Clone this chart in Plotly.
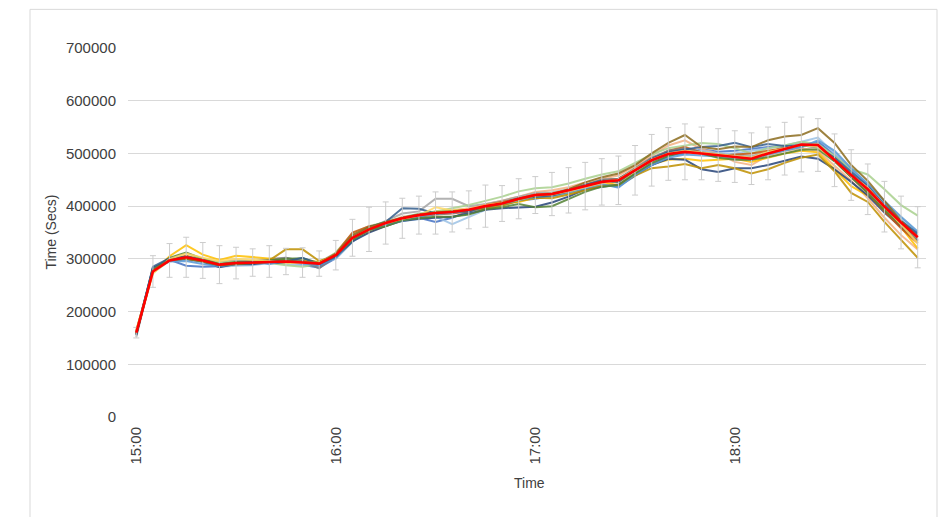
import plotly.graph_objects as go

times = [f"{15 + i // 12}:{(i % 12) * 5:02d}" for i in range(48)]
tick_labels = ["15:00", "16:00", "17:00", "18:00"]

mean_vals = [160000, 276000, 297000, 303000, 297000, 289000, 292000, 293000, 295000, 295000, 293000, 291000,
             307000, 340000, 356000, 368000, 377000, 383000, 387000, 389000, 393000, 400000, 405000, 414000,
             421000, 423000, 430000, 438000, 446000, 449000, 468000, 487000, 499000, 503000, 500000, 497000,
             494000, 490000, 500000, 509000, 517000, 516000, 487000, 459000, 432000, 399000, 369000, 341000]
mean_err = [10000, 30000, 32000, 38000, 34000, 36000, 30000, 26000, 30000, 25000, 28000, 24000,
            28000, 35000, 42000, 40000, 38000, 36000, 40000, 38000, 36000, 40000, 34000, 38000,
            35000, 41000, 43000, 45000, 44000, 46000, 47000, 49000, 50000, 53000, 50000, 50000,
            49000, 49000, 50000, 50000, 52000, 50000, 50000, 48000, 48000, 48000, 50000, 58000]

s_navy = [158000, 283000, 296000, 300000, 295000, 284000, 290000, 290000, 293000, 292000, 296000, 287000,
          303000, 333000, 350000, 362000, 372000, 376000, 378000, 380000, 386000, 393000, 396000, 398000,
          399000, 407000, 418000, 432000, 437000, 441000, 460000, 478000, 490000, 488000, 470000, 465000,
          472000, 472000, 478000, 486000, 494000, 490000, 470000, 446000, 420000, 388000, 360000, 333000]
s_blue = [162000, 282000, 298000, 287000, 285000, 286000, 292000, 297000, 292000, 296000, 289000, 283000,
          301000, 337000, 352000, 366000, 375000, 378000, 370000, 378000, 390000, 397000, 402000, 410000,
          414000, 420000, 425000, 433000, 441000, 437000, 458000, 478000, 496000, 500000, 508000, 503000,
          505000, 508000, 512000, 513000, 512000, 522000, 498000, 470000, 440000, 405000, 372000, 345000]
s_orange = [157000, 277000, 300000, 305000, 300000, 294000, 295000, 290000, 298000, 299000, 296000, 293000,
            310000, 345000, 360000, 368000, 380000, 384000, 390000, 392000, 396000, 403000, 410000, 418000,
            427000, 430000, 436000, 445000, 452000, 458000, 476000, 496000, 515000, 525000, 508000, 500000,
            484000, 478000, 496000, 505000, 510000, 505000, 476000, 448000, 415000, 378000, 345000, 318000]
s_gray = [152000, 280000, 297000, 302000, 296000, 293000, 298000, 296000, 300000, 302000, 294000, 294000,
          311000, 342000, 358000, 372000, 386000, 390000, 414000, 414000, 400000, 404000, 410000, 418000,
          425000, 426000, 432000, 440000, 450000, 452000, 470000, 490000, 502000, 507000, 503000, 500000,
          497000, 495000, 502000, 512000, 520000, 518000, 490000, 462000, 430000, 395000, 362000, 335000]
s_gold = [165000, 275000, 305000, 326000, 308000, 298000, 306000, 303000, 300000, 298000, 297000, 294000,
          306000, 336000, 352000, 362000, 375000, 380000, 390000, 390000, 392000, 396000, 406000, 408000,
          416000, 418000, 424000, 432000, 440000, 446000, 462000, 480000, 488000, 490000, 486000, 488000,
          490000, 484000, 492000, 500000, 505000, 502000, 470000, 438000, 420000, 395000, 360000, 320000]
s_lightblue = [160000, 278000, 296000, 298000, 293000, 285000, 287000, 288000, 292000, 290000, 288000, 292000,
               300000, 332000, 355000, 365000, 372000, 375000, 380000, 366000, 380000, 393000, 403000, 412000,
               420000, 423000, 429000, 437000, 445000, 448000, 466000, 484000, 498000, 510000, 505000, 500000,
               500000, 505000, 510000, 515000, 522000, 530000, 500000, 470000, 440000, 408000, 378000, 350000]
s_lightgreen = [163000, 274000, 296000, 303000, 300000, 293000, 295000, 293000, 292000, 288000, 285000, 290000,
                312000, 348000, 362000, 370000, 378000, 386000, 390000, 396000, 402000, 410000, 418000, 428000,
                434000, 436000, 443000, 452000, 460000, 466000, 482000, 498000, 510000, 515000, 520000, 518000,
                510000, 500000, 510000, 515000, 522000, 518000, 495000, 470000, 460000, 432000, 402000, 382000]
s_darkgreen = [158000, 280000, 302000, 312000, 300000, 290000, 294000, 295000, 297000, 300000, 301000, 292000,
               306000, 336000, 355000, 362000, 373000, 377000, 380000, 380000, 384000, 394000, 398000, 404000,
               398000, 400000, 414000, 427000, 437000, 440000, 462000, 482000, 495000, 504000, 500000, 492000,
               488000, 488000, 493000, 500000, 507000, 508000, 485000, 455000, 425000, 392000, 365000, 342000]
s_steel = [155000, 285000, 301000, 304000, 298000, 287000, 292000, 294000, 296000, 295000, 302000, 290000,
           304000, 340000, 360000, 370000, 396000, 395000, 386000, 390000, 390000, 400000, 405000, 415000,
           418000, 420000, 428000, 440000, 448000, 446000, 468000, 490000, 503000, 508000, 512000, 514000,
           520000, 512000, 518000, 514000, 515000, 512000, 492000, 465000, 438000, 402000, 372000, 348000]
s_olive = [160000, 278000, 298000, 300000, 295000, 288000, 290000, 292000, 294000, 296000, 294000, 292000,
           309000, 345000, 360000, 370000, 378000, 384000, 388000, 390000, 393000, 398000, 405000, 412000,
           420000, 422000, 432000, 445000, 455000, 462000, 478000, 500000, 520000, 535000, 512000, 508000,
           513000, 512000, 525000, 532000, 535000, 548000, 520000, 478000, 448000, 410000, 372000, 342000]
s_mustard = [162000, 276000, 297000, 300000, 296000, 288000, 291000, 293000, 297000, 318000, 318000, 296000,
             305000, 338000, 353000, 368000, 376000, 382000, 387000, 389000, 392000, 396000, 401000, 410000,
             416000, 415000, 422000, 430000, 438000, 440000, 458000, 472000, 475000, 480000, 472000, 478000,
             472000, 462000, 470000, 482000, 492000, 498000, 466000, 425000, 408000, 370000, 335000, 302000]
s_yellow = [164000, 272000, 300000, 310000, 302000, 296000, 300000, 298000, 296000, 292000, 293000, 293000,
            308000, 340000, 358000, 368000, 376000, 382000, 398000, 392000, 394000, 402000, 406000, 412000,
            420000, 422000, 428000, 436000, 444000, 450000, 470000, 488000, 500000, 505000, 502000, 498000,
            496000, 492000, 503000, 510000, 516000, 512000, 488000, 458000, 435000, 400000, 365000, 330000]
s_brown = [157000, 279000, 299000, 306000, 297000, 290000, 292000, 292000, 296000, 297000, 295000, 292000,
           310000, 350000, 362000, 366000, 374000, 380000, 384000, 386000, 390000, 402000, 408000, 414000,
           422000, 424000, 430000, 440000, 448000, 452000, 468000, 488000, 505000, 512000, 502000, 495000,
           498000, 500000, 505000, 510000, 515000, 514000, 486000, 455000, 425000, 390000, 358000, 330000]
s_midblue = [161000, 281000, 295000, 296000, 290000, 286000, 290000, 296000, 290000, 298000, 291000, 288000,
             302000, 338000, 354000, 364000, 372000, 380000, 385000, 387000, 392000, 398000, 404000, 411000,
             418000, 419000, 426000, 434000, 442000, 435000, 460000, 478000, 492000, 498000, 496000, 494000,
             490000, 488000, 498000, 505000, 512000, 525000, 505000, 472000, 442000, 410000, 380000, 352000]
s_darkgray = [156000, 280000, 298000, 304000, 296000, 290000, 293000, 294000, 298000, 302000, 296000, 282000,
              306000, 342000, 357000, 368000, 378000, 384000, 388000, 388000, 392000, 398000, 404000, 412000,
              420000, 422000, 430000, 440000, 450000, 452000, 472000, 492000, 505000, 510000, 502000, 498000,
              495000, 492000, 500000, 508000, 515000, 512000, 488000, 460000, 432000, 398000, 366000, 336000]

series = [
    ("Run 1", s_blue, "#4472C4"),
    ("Run 2", s_orange, "#F4B183"),
    ("Run 3", s_gray, "#A5A5A5"),
    ("Run 4", s_gold, "#FFC000"),
    ("Run 5", s_lightblue, "#9DC3E6"),
    ("Run 6", s_lightgreen, "#A9D18E"),
    ("Run 7", s_navy, "#264478"),
    ("Run 8", s_brown, "#C55A11"),
    ("Run 9", s_darkgray, "#7F7F7F"),
    ("Run 10", s_mustard, "#BF9000"),
    ("Run 11", s_midblue, "#5B9BD5"),
    ("Run 12", s_darkgreen, "#548235"),
    ("Run 13", s_steel, "#335D8C"),
    ("Run 14", s_yellow, "#FFD966"),
    ("Run 15", s_olive, "#8C6D1F"),
]

fig = go.Figure()
for name, vals, col in series:
    fig.add_trace(go.Scatter(x=times, y=vals, mode="lines", name=name,
                             line=dict(color=col, width=2), opacity=0.85))

fig.add_trace(go.Scatter(
    x=times, y=mean_vals, mode="lines", name="Mean",
    line=dict(color="#FF0000", width=2.6),
    error_y=dict(type="data", array=mean_err, visible=True, color="#CCCCCC", thickness=1, width=3),
))

font_family = "Liberation Sans, Arial, sans-serif"
fig.update_layout(
    width=947, height=517,
    margin=dict(l=128, r=21, t=48, b=100),
    paper_bgcolor="white", plot_bgcolor="white",
    showlegend=False,
    font=dict(family=font_family, size=14, color="#404040"),
    xaxis=dict(type="category", categoryorder="array", categoryarray=times,
               range=[-0.5, 47.5], autorange=False,
               tickmode="array", tickvals=tick_labels, ticktext=tick_labels,
               tickangle=-90, showgrid=False, zeroline=False, showline=False,
               ticks="", ticklabelstandoff=6,
               tickfont=dict(size=15, color="#404040")),
    yaxis=dict(range=[0, 700000], dtick=100000, tickformat="d",
               showgrid=True, gridcolor="#D9D9D9", gridwidth=1, zeroline=False,
               showline=False, ticks="", ticklabelstandoff=11,
               tickfont=dict(size=15, color="#404040")),
    annotations=[
        dict(text="Time (Secs)", textangle=-90, xref="paper", yref="paper",
             x=-0.0977, y=0.5, showarrow=False, font=dict(size=14, color="#404040"),
             xanchor="center", yanchor="middle"),
        dict(text="Time", xref="paper", yref="paper", x=0.503, y=-0.178,
             showarrow=False, font=dict(size=14, color="#404040"),
             xanchor="center", yanchor="middle"),
    ],
    shapes=[
        dict(type="rect", xref="paper", yref="paper", x0=-0.1228, x1=1.0138,
             y0=-0.3, y1=1.1047, line=dict(color="#D9D9D9", width=1), layer="below"),
    ],
)

fig.write_html("out.html")
